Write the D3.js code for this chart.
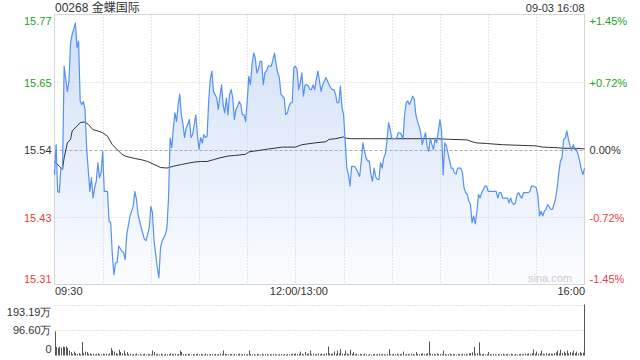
<!DOCTYPE html>
<html>
<head>
<meta charset="utf-8">
<script src="https://cdn.jsdelivr.net/npm/d3@7"></script>
<style>
  html, body { margin: 0; padding: 0; background: #fff; }
  svg { display: block; font-family: Arial, "Liberation Sans", "Noto Sans CJK SC", sans-serif; }
</style>
</head>
<body>
<div id="chart"></div>
<script>
// header
const title = "00268 金蝶国际";
const stamp = "09-03 16:08";
const prevClose = 15.54;

// minutes since 09:30 (lunch break removed, 330 = 16:00)
const priceMinutes = [
  0, 1, 2, 3, 4, 5, 6, 8, 9, 10, 11, 13, 14, 15, 16, 17, 18, 19, 20, 22,
  23, 24, 25, 26, 27, 28, 29, 30, 31, 33, 34, 35, 36, 37, 38, 39, 40, 42, 43, 44,
  45, 47, 49, 50, 51, 52, 54, 56, 57, 59, 60, 61, 62, 63, 64, 65, 66, 67, 69, 70,
  71, 72, 73, 74, 75, 76, 77, 78, 79, 80, 81, 82, 83, 84, 85, 86, 88, 89, 90, 91,
  92, 93, 94, 95, 96, 97, 98, 99, 101, 102, 103, 104, 105, 106, 107, 108, 109, 110, 111, 112,
  113, 114, 115, 116, 117, 118, 119, 120, 121, 122, 123, 124, 125, 126, 127, 128, 129, 130, 131, 132,
  133, 135, 136, 137, 138, 139, 140, 141, 142, 143, 144, 145, 146, 147, 148, 149, 150, 151, 152, 153,
  154, 155, 156, 157, 158, 159, 160, 161, 162, 163, 164, 165, 166, 167, 169, 171, 172, 173, 174, 175,
  176, 177, 178, 179, 180, 181, 182, 183, 184, 185, 186, 187, 188, 190, 191, 192, 193, 194, 195, 196,
  197, 198, 199, 200, 201, 202, 203, 204, 205, 206, 207, 208, 209, 210, 211, 212, 213, 214, 215, 216,
  217, 218, 219, 220, 221, 222, 223, 224, 225, 226, 227, 228, 229, 230, 231, 232, 233, 234, 235, 236,
  237, 238, 239, 240, 241, 242, 243, 244, 245, 247, 248, 249, 250, 251, 253, 254, 255, 256, 257, 258,
  259, 260, 261, 262, 263, 264, 265, 266, 267, 268, 269, 270, 273, 275, 276, 277, 278, 279, 282, 283,
  284, 285, 286, 287, 288, 289, 290, 291, 292, 295, 296, 297, 298, 300, 301, 302, 303, 304, 305, 306,
  307, 308, 309, 310, 311, 312, 313, 314, 315, 316, 317, 318, 319, 320, 321, 322, 323, 324, 325, 326,
  327, 328, 329, 330
];
const prices = [
  15.498, 15.548, 15.470, 15.468, 15.509, 15.507, 15.679, 15.637, 15.654, 15.718, 15.732, 15.751, 15.710, 15.721, 15.621, 15.615, 15.620, 15.607, 15.543, 15.470,
  15.493, 15.459, 15.476, 15.487, 15.518, 15.493, 15.501, 15.537, 15.470, 15.470, 15.420, 15.418, 15.365, 15.331, 15.351, 15.351, 15.379, 15.370, 15.368, 15.356,
  15.398, 15.429, 15.445, 15.470, 15.457, 15.432, 15.409, 15.390, 15.388, 15.409, 15.445, 15.434, 15.387, 15.365, 15.343, 15.326, 15.376, 15.387, 15.398, 15.409,
  15.459, 15.559, 15.543, 15.576, 15.601, 15.587, 15.615, 15.632, 15.598, 15.582, 15.560, 15.576, 15.582, 15.590, 15.560, 15.565, 15.598, 15.565, 15.540, 15.560,
  15.551, 15.565, 15.560, 15.562, 15.621, 15.657, 15.671, 15.637, 15.626, 15.607, 15.629, 15.648, 15.615, 15.601, 15.626, 15.598, 15.632, 15.640, 15.626, 15.590,
  15.607, 15.612, 15.620, 15.615, 15.598, 15.598, 15.587, 15.621, 15.662, 15.648, 15.682, 15.701, 15.693, 15.668, 15.674, 15.687, 15.687, 15.648, 15.668, 15.671,
  15.679, 15.679, 15.690, 15.701, 15.682, 15.668, 15.660, 15.632, 15.629, 15.626, 15.598, 15.601, 15.612, 15.618, 15.618, 15.676, 15.679, 15.674, 15.640, 15.651,
  15.668, 15.629, 15.648, 15.648, 15.646, 15.640, 15.640, 15.648, 15.640, 15.657, 15.671, 15.654, 15.637, 15.648, 15.660, 15.648, 15.643, 15.640, 15.640, 15.632,
  15.618, 15.618, 15.646, 15.610, 15.598, 15.554, 15.509, 15.498, 15.479, 15.512, 15.512, 15.511, 15.507, 15.495, 15.521, 15.551, 15.537, 15.526, 15.521, 15.521,
  15.498, 15.487, 15.509, 15.495, 15.490, 15.490, 15.518, 15.509, 15.526, 15.532, 15.554, 15.585, 15.573, 15.559, 15.558, 15.558, 15.559, 15.568, 15.568, 15.565,
  15.557, 15.598, 15.618, 15.621, 15.615, 15.621, 15.629, 15.624, 15.598, 15.587, 15.579, 15.568, 15.548, 15.559, 15.568, 15.546, 15.537, 15.559, 15.548, 15.540,
  15.559, 15.551, 15.571, 15.590, 15.571, 15.498, 15.551, 15.546, 15.534, 15.509, 15.509, 15.501, 15.499, 15.509, 15.509, 15.501, 15.476, 15.468, 15.465, 15.454,
  15.448, 15.418, 15.429, 15.416, 15.437, 15.465, 15.459, 15.468, 15.473, 15.479, 15.479, 15.470, 15.470, 15.470, 15.459, 15.468, 15.468, 15.459, 15.459, 15.451,
  15.459, 15.451, 15.448, 15.451, 15.465, 15.468, 15.462, 15.459, 15.468, 15.468, 15.470, 15.479, 15.479, 15.476, 15.462, 15.429, 15.437, 15.429, 15.437, 15.440,
  15.448, 15.445, 15.440, 15.440, 15.448, 15.459, 15.476, 15.501, 15.521, 15.526, 15.557, 15.559, 15.571, 15.557, 15.546, 15.540, 15.548, 15.540, 15.540, 15.532,
  15.521, 15.507, 15.498, 15.509
];

// average price line
const avgMinutes = [
  0, 3, 5, 6, 8, 10, 11, 14, 16, 19, 21, 24, 27, 30, 33, 36, 39, 42, 44, 50,
  54, 58, 62, 66, 70, 74, 79, 83, 87, 91, 95, 99, 103, 108, 112, 119, 121, 131, 142, 150,
  154, 162, 169, 171, 175, 180, 181, 185, 196, 223, 238, 246, 257, 260, 263, 269, 279, 300, 304, 313,
  317, 325, 330
];
const avgPrices = [
  15.520, 15.512, 15.507, 15.526, 15.551, 15.557, 15.571, 15.579, 15.585, 15.586, 15.582, 15.573, 15.571, 15.568, 15.562, 15.548, 15.540, 15.532, 15.529, 15.525,
  15.523, 15.520, 15.515, 15.510, 15.509, 15.512, 15.515, 15.517, 15.519, 15.520, 15.520, 15.523, 15.526, 15.529, 15.530, 15.532, 15.536, 15.540, 15.544, 15.544,
  15.548, 15.551, 15.553, 15.557, 15.558, 15.561, 15.559, 15.558, 15.558, 15.558, 15.558, 15.557, 15.556, 15.553, 15.551, 15.550, 15.548, 15.546, 15.544, 15.543,
  15.542, 15.542, 15.541
];

// volume per minute, in 万 shares (index = minute)
const volumes = [
  91, 32, 29, 34, 30, 34, 32, 34, 29, 19, 13, 6, 15, 9, 6, 9, 5, 51, 9, 15,
  13, 6, 8, 5, 7, 4, 6, 8, 5, 4, 7, 5, 6, 4, 8, 29, 19, 15, 9, 6,
  22, 13, 8, 19, 6, 13, 5, 7, 4, 6, 5, 8, 4, 6, 3, 5, 7, 4, 5, 6,
  4, 19, 13, 5, 6, 4, 7, 5, 3, 6, 5, 4, 8, 6, 5, 7, 4, 6, 19, 13,
  5, 6, 4, 7, 5, 3, 6, 4, 5, 7, 4, 6, 5, 3, 7, 5, 4, 6, 5, 4,
  6, 4, 5, 7, 4, 19, 6, 5, 4, 6, 5, 3, 6, 4, 5, 7, 4, 5, 6, 4,
  5, 19, 6, 4, 5, 3, 6, 5, 4, 7, 4, 5, 6, 3, 5, 4, 6, 5, 4, 3,
  5, 6, 4, 5, 3, 6, 4, 5, 7, 6, 8, 5, 6, 15, 7, 4, 13, 6, 8, 19,
  5, 7, 4, 6, 8, 5, 7, 4, 6, 9, 34, 8, 6, 7, 15, 6, 19, 8, 24, 7,
  6, 19, 8, 5, 22, 6, 13, 5, 7, 4, 6, 5, 4, 7, 5, 3, 6, 4, 5, 6,
  4, 5, 7, 4, 6, 5, 3, 6, 24, 5, 4, 6, 5, 7, 4, 5, 6, 15, 4, 5,
  6, 4, 7, 5, 4, 13, 6, 5, 7, 8, 5, 6, 9, 53, 7, 5, 6, 4, 8, 5,
  6, 5, 19, 6, 4, 5, 7, 4, 6, 5, 3, 6, 5, 4, 7, 5, 6, 4, 8, 9,
  12, 32, 6, 9, 50, 7, 5, 6, 4, 5, 13, 5, 4, 6, 5, 3, 6, 4, 5, 7,
  4, 6, 5, 4, 7, 5, 3, 6, 4, 5, 6, 4, 5, 7, 6, 8, 5, 9, 23, 7,
  15, 6, 8, 19, 7, 5, 9, 6, 8, 7, 6, 9, 12, 19, 8, 22, 10, 15, 9, 19,
  8, 13, 10, 19, 9, 15, 8, 13, 9, 11, 193.19
];

// axis labels
const pctTicks = [1.45, 0.725, 0, -0.725, -1.45];
const priceLabels = ["15.77", "15.65", "15.54", "15.43", "15.31"];
const pctLabels = ["+1.45%", "+0.72%", "0.00%", "-0.72%", "-1.45%"];
const timeTicks = [0, 150, 330];
const timeLabels = ["09:30", "12:00/13:00", "16:00"];
const gridMinutes = [30, 60, 90, 120, 150, 180, 210, 240, 270, 300];
const volTicks = [193.19, 96.60, 0];
const volLabels = ["193.19万", "96.60万", "0"];

const width = 640;
const height = 360;
const plot = { left: 54.5, right: 584.5, top: 14.5, bottom: 284.5 };
const volPanel = { top: 304.5, bottom: 355.5 };

const colorUp = "#22a322";
const colorDown = "#f03c3c";
const colorFlat = "#333333";
const signColor = p => (p > 0 ? colorUp : p < 0 ? colorDown : colorFlat);

const svg = d3
  .select("#chart")
  .append("svg")
  .attr("width", width)
  .attr("height", height);

// scales
const x = d3.scaleLinear().domain([0, 330]).range([plot.left, plot.right]);
const yPct = d3.scaleLinear().domain([-1.45, 1.45]).range([plot.bottom, plot.top]);
const y = p => yPct((p / prevClose - 1) * 100);
const yVol = d3.scaleLinear().domain([0, d3.max(volumes)]).range([volPanel.bottom, volPanel.top]);

const pricePoints = priceMinutes.map((m, i) => [m, prices[i]]);
const avgPoints = avgMinutes.map((m, i) => [m, avgPrices[i]]);

// header
svg
  .append("text")
  .attr("x", 55)
  .attr("y", 12)
  .attr("font-size", 12)
  .attr("fill", "#333")
  .text(title);

svg
  .append("text")
  .attr("x", plot.right)
  .attr("y", 12)
  .attr("text-anchor", "end")
  .attr("font-size", 11)
  .attr("fill", "#333")
  .text(stamp);

// area gradient
const grad = svg
  .append("defs")
  .append("linearGradient")
  .attr("id", "fill")
  .attr("gradientUnits", "userSpaceOnUse")
  .attr("x1", 0)
  .attr("y1", plot.top)
  .attr("x2", 0)
  .attr("y2", plot.bottom);
grad.append("stop").attr("offset", 0).attr("stop-color", "#cfdff7");
grad.append("stop").attr("offset", 1).attr("stop-color", "#fbfcff");

svg
  .append("path")
  .datum(pricePoints)
  .attr("fill", "url(#fill)")
  .attr(
    "d",
    d3
      .area()
      .x(d => x(d[0]))
      .y0(plot.bottom)
      .y1(d => y(d[1]))
  );

// grid lines
svg
  .append("g")
  .selectAll("line")
  .data(gridMinutes)
  .enter()
  .append("line")
  .attr("x1", d => Math.round(x(d)) + 0.5)
  .attr("x2", d => Math.round(x(d)) + 0.5)
  .attr("y1", plot.top)
  .attr("y2", plot.bottom)
  .attr("stroke", "#cfcfcf")
  .attr("stroke-dasharray", "1,2");

svg
  .append("g")
  .selectAll("line")
  .data(pctTicks.filter(d => Math.abs(d) < 1.4))
  .enter()
  .append("line")
  .attr("x1", plot.left)
  .attr("x2", plot.right)
  .attr("y1", d => Math.round(yPct(d)) + 0.5)
  .attr("y2", d => Math.round(yPct(d)) + 0.5)
  .attr("stroke", d => (d === 0 ? "#aaaaaa" : "#cfcfcf"))
  .attr("stroke-dasharray", d => (d === 0 ? "3,2" : "1,2"));

// frame
svg
  .append("rect")
  .attr("x", plot.left)
  .attr("y", plot.top)
  .attr("width", plot.right - plot.left)
  .attr("height", plot.bottom - plot.top)
  .attr("fill", "none")
  .attr("stroke", "#d6d6d6");

// watermark
svg
  .append("text")
  .attr("x", 572)
  .attr("y", 282)
  .attr("text-anchor", "end")
  .attr("font-size", 11)
  .attr("fill", "#cccccc")
  .text("sina.com");

// average line and price line
svg
  .append("path")
  .datum(avgPoints)
  .attr("fill", "none")
  .attr("stroke", "#333")
  .attr("stroke-width", 1)
  .attr(
    "d",
    d3
      .line()
      .x(d => x(d[0]))
      .y(d => y(d[1]))
  );

svg
  .append("path")
  .datum(pricePoints)
  .attr("fill", "none")
  .attr("stroke", "#5591f0")
  .attr("stroke-width", 1.2)
  .attr("stroke-linejoin", "round")
  .attr(
    "d",
    d3
      .line()
      .x(d => x(d[0]))
      .y(d => y(d[1]))
  );

// left price labels / right percent labels
// top and bottom labels are nudged inside the frame
const labelShift = (d, i, n) => (i === 0 ? 10 : i === n - 1 ? -2 : 4);

const leftAxis = svg
  .append("g")
  .attr("transform", "translate(" + plot.left + ",0)")
  .call(
    d3
      .axisLeft(yPct)
      .tickValues(pctTicks)
      .tickSize(0)
      .tickPadding(3)
      .tickFormat((d, i) => priceLabels[i])
  );
leftAxis.select(".domain").remove();
leftAxis
  .selectAll("text")
  .attr("font-size", 11)
  .attr("font-family", null)
  .attr("dy", null)
  .attr("y", (d, i) => labelShift(d, i, pctTicks.length))
  .attr("fill", d => signColor(d));

const rightAxis = svg
  .append("g")
  .attr("transform", "translate(" + plot.right + ",0)")
  .call(
    d3
      .axisRight(yPct)
      .tickValues(pctTicks)
      .tickSize(0)
      .tickPadding(5)
      .tickFormat((d, i) => pctLabels[i])
  );
rightAxis.select(".domain").remove();
rightAxis
  .selectAll("text")
  .attr("font-size", 11)
  .attr("font-family", null)
  .attr("dy", null)
  .attr("y", (d, i) => labelShift(d, i, pctTicks.length))
  .attr("fill", d => signColor(d));

// time labels
const timeAxis = svg
  .append("g")
  .attr("transform", "translate(0," + plot.bottom + ")")
  .call(
    d3
      .axisBottom(x)
      .tickValues(timeTicks)
      .tickSize(0)
      .tickPadding(3)
      .tickFormat((d, i) => timeLabels[i])
  );
timeAxis.select(".domain").remove();
timeAxis
  .selectAll("text")
  .attr("font-size", 11)
  .attr("font-family", null)
  .attr("fill", "#333")
  .attr("text-anchor", (d, i) => (i === 0 ? "start" : i === timeTicks.length - 1 ? "end" : "middle"))
  .attr("x", (d, i) => (i === 1 ? 3 : 0));

// volume panel
svg
  .append("g")
  .selectAll("line")
  .data(volTicks.filter(d => d > 0))
  .enter()
  .append("line")
  .attr("x1", plot.left)
  .attr("x2", plot.right)
  .attr("y1", d => Math.round(yVol(d)) + 0.5)
  .attr("y2", d => Math.round(yVol(d)) + 0.5)
  .attr("stroke", "#c4c4c4")
  .attr("stroke-dasharray", "1,2");

svg
  .append("g")
  .selectAll("rect")
  .data(volumes)
  .enter()
  .append("rect")
  .attr("x", (d, i) => Math.round(x(i)) - (i === volumes.length - 1 ? 1 : 0))
  .attr("width", 1)
  .attr("y", d => yVol(d))
  .attr("height", d => volPanel.bottom - yVol(d))
  .attr("fill", "#555");

const volAxis = svg
  .append("g")
  .attr("transform", "translate(" + plot.left + ",0)")
  .call(
    d3
      .axisLeft(yVol)
      .tickValues(volTicks)
      .tickSize(0)
      .tickPadding(3)
      .tickFormat((d, i) => volLabels[i])
  );
volAxis.select(".domain").remove();
volAxis
  .selectAll("text")
  .attr("font-size", 11)
  .attr("font-family", null)
  .attr("dy", null)
  .attr("y", (d, i) => (i === 0 ? 11 : i === volTicks.length - 1 ? -3 : 4))
  .attr("fill", "#333");
</script>
</body>
</html>
